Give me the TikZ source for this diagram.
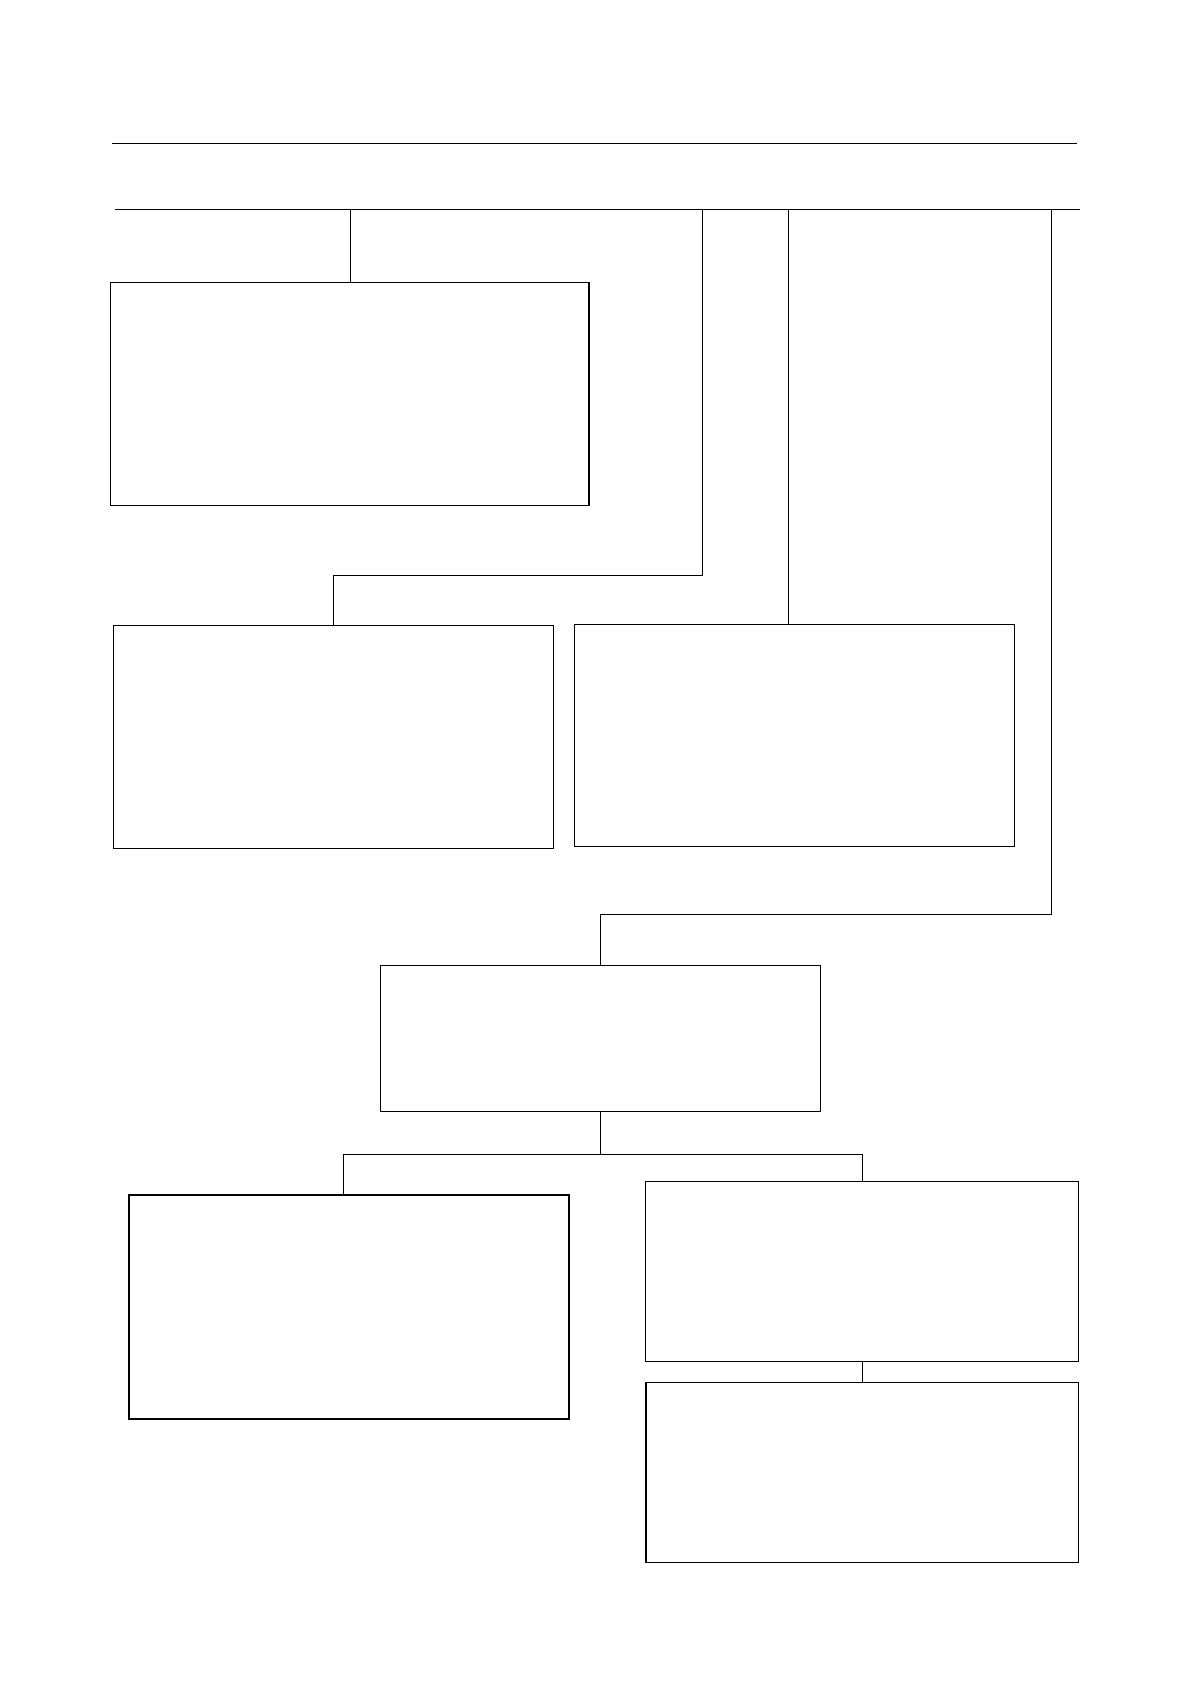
\documentclass[tikz,border=0pt]{standalone}
\begin{document}
\begin{tikzpicture}[x=1pt,y=-1pt,
  box/.style={draw=black,line width=1pt,inner sep=0pt,outer sep=0pt,fill=white},
  thickbox/.style={box,line width=1.5pt},
  conn/.style={draw=black,line width=1pt}]
\useasboundingbox[fill=white] (0,0) rectangle (1106.7,1566.1);
% rules
\coordinate (r1l) at (104.5,133.5);
\coordinate (r1r) at (1002,133.5);
\coordinate (busl) at (106.6,194.7);
\coordinate (busr) at (1004.4,194.7);
\draw[conn] (r1l) -- (r1r);
\draw[conn,line width=1.2pt] (busl) -- (busr);
% boxes
\node[box,minimum width=444.7pt,minimum height=207.1pt] (b1) at (325.4,366.3) {};
\node[box,minimum width=409.3pt,minimum height=207.6pt] (b2) at (309.9,685.6) {};
\node[box,minimum width=408.7pt,minimum height=207pt] (b3) at (738.7,684) {};
\node[box,minimum width=408.7pt,minimum height=136.2pt] (b4) at (558.5,965.6) {};
\node[thickbox,minimum width=409.4pt,minimum height=208.3pt] (b5) at (324.7,1215.7) {};
\node[box,minimum width=402.4pt,minimum height=167.1pt] (b6) at (801.8,1182.3) {};
\node[thickbox,minimum width=402.4pt,minimum height=167.1pt] (b7) at (801.8,1369.4) {};
% bus taps
\coordinate (t1) at (326,194.7);
\coordinate (t2) at (652.9,194.7);
\coordinate (t2b) at (652.9,535.6);
\coordinate (t3) at (733.3,194.7);
\coordinate (t4) at (977.5,194.7);
\coordinate (t4b) at (977.5,850.5);
\coordinate (j1) at (558.5,1073.6);
\coordinate (jl) at (319.7,1073.6);
\coordinate (jr) at (801.8,1073.6);
% connectors
\draw[conn] (t1) -- (t1 |- b1.north);
\draw[conn] (t2) -- (t2b) -| (b2.north);
\draw[conn] (t3) -- (t3 |- b3.north);
\draw[conn] (t4) -- (t4b) -| (b4.north);
\draw[conn] (b4.south) -- (j1);
\draw[conn] (jl) -- (jr);
\draw[conn] (jl) -- (jl |- b5.north);
\draw[conn] (b6.north) -- (jr);
\draw[conn] (b6.south) -- (b7.north);
\end{tikzpicture}
\end{document}
